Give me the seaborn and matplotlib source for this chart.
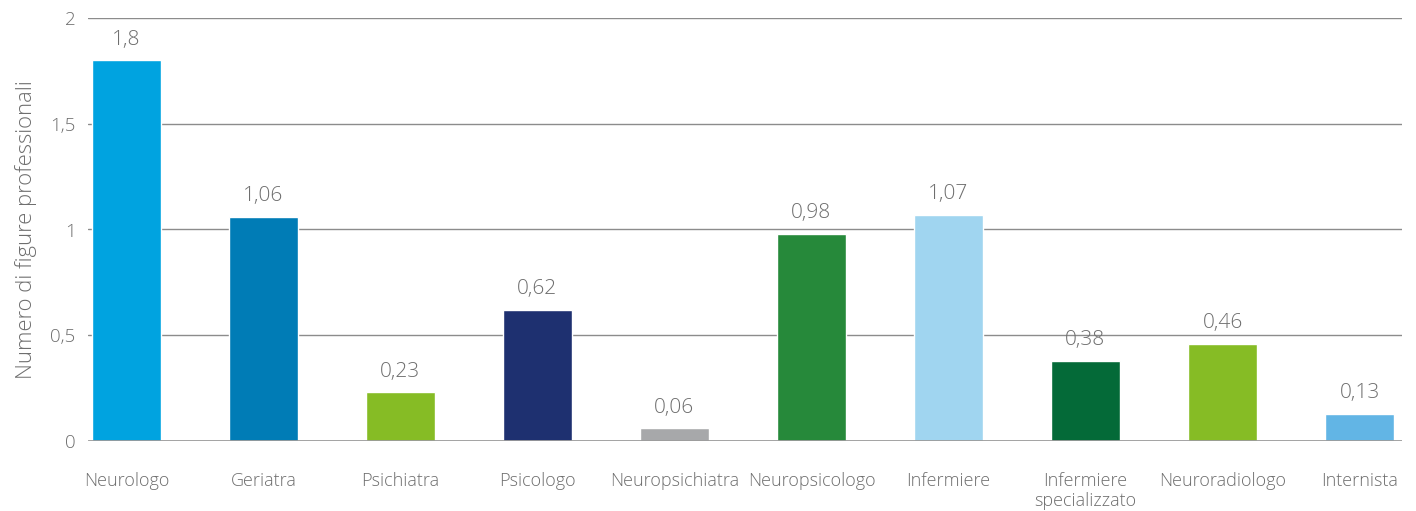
import matplotlib
matplotlib.use("Agg")
import matplotlib.pyplot as plt
import seaborn as sns
import pandas as pd

categories = ["Neurologo", "Geriatra", "Psichiatra", "Psicologo", "Neuropsichiatra",
              "Neuropsicologo", "Infermiere", "Infermiere\nspecializzato",
              "Neuroradiologo", "Internista"]
values = [1.8, 1.06, 0.23, 0.62, 0.06, 0.98, 1.07, 0.38, 0.46, 0.13]
colors = ["#00A3E0", "#007CB6", "#86BC25", "#1E3070", "#A7A8AA",
          "#26893A", "#A0D5F0", "#046A38", "#86BC25", "#62B5E5"]
yticks = [0, 0.5, 1, 1.5, 2]
ytick_labels = ["0", "0,5", "1", "1,5", "2"]
ylabel = "Numero di figure professionali"

sns.set_theme(style="white")
plt.rcParams["font.family"] = ["Open Sans", "DejaVu Sans"]
text_color = "#6E6E6E"

df = pd.DataFrame({"categoria": categories, "valore": values})

fig = plt.figure(figsize=(14.16, 5.11), dpi=100)
ax = fig.add_axes([88 / 1416, 1 - 441 / 511, (1402 - 88) / 1416, (441 - 18) / 511])

sns.barplot(data=df, x="categoria", y="valore", hue="categoria", palette=colors,
            legend=False, width=0.5, saturation=1, ax=ax)

ax.set_ylim(0, 2)
ax.set_xlim(-0.28, 9.31)
ax.set_yticks(yticks)
ax.set_yticklabels(ytick_labels)
for y in yticks[1:]:
    ax.axhline(y, color="#8C8C8C", lw=1.0, zorder=0)
ax.axhline(0, color="#9A9A9A", lw=2.0, zorder=3)

for s in ax.spines.values():
    s.set_visible(False)
ax.tick_params(axis="y", length=0, labelsize=13.5, colors=text_color, pad=9)
ax.tick_params(axis="x", length=0, labelsize=13, colors=text_color, pad=22)
for lab in ax.get_xticklabels() + ax.get_yticklabels():
    lab.set_fontweight("light")
ax.set_xlabel("")
ax.set_ylabel(ylabel, fontsize=15.8, color=text_color, fontweight="light")
ax.yaxis.set_label_coords(-51 / 1314, 0.5)

for i, v in enumerate(values):
    ax.text(i, v + 0.05, f"{v:g}".replace(".", ","), ha="center", va="bottom",
            fontsize=15, color=text_color, fontweight="light")

fig.savefig("out.png", dpi=100)
